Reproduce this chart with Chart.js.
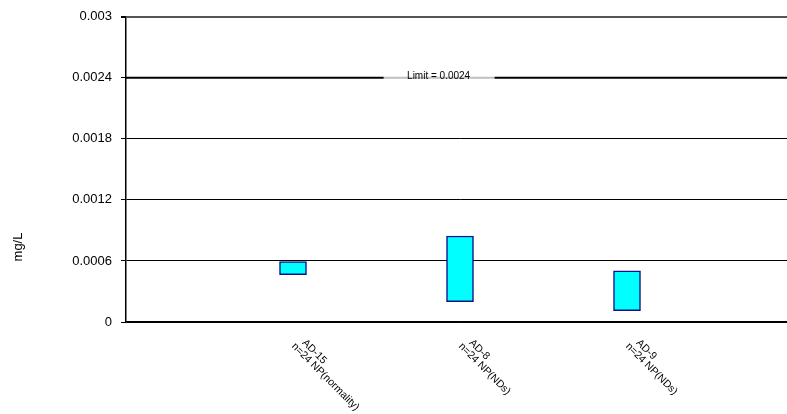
<!DOCTYPE html>
<html>
<head>
<meta charset="utf-8">
<script src="https://cdn.jsdelivr.net/npm/chart.js@4/dist/chart.umd.min.js"></script>
<style>
  html, body { margin: 0; padding: 0; overflow: hidden; background: #fff; }
  #wrap { width: 800px; height: 414px; }
</style>
</head>
<body>
<div id="wrap"><canvas id="chart"></canvas></div>
<script>
// Data
const categories = ['', 'AD-15', 'AD-8', 'AD-9', ''];
const subLabels = ['', 'n=24 NP(normality)', 'n=24 NP(NDs)', 'n=24 NP(NDs)', ''];
const lowValues = [null, 0.000466, 0.0002, 0.000111, null];
const highValues = [null, 0.000594, 0.000845, 0.000503, null];
const LIMIT = 0.0024;
const limitLabel = 'Limit = 0.0024';
const yTicks = [0, 0.0006, 0.0012, 0.0018, 0.0024, 0.003];
const yTickLabels = ['0', '0.0006', '0.0012', '0.0018', '0.0024', '0.003'];
const yTitle = 'mg/L';

const FONT = "'Liberation Sans', Arial, sans-serif";

const intervals = categories.map((c, i) =>
    lowValues[i] == null ? null : [lowValues[i], highValues[i]]);
const limitValues = categories.map(() => LIMIT);

// Labels, limit tag and axis title drawn by hand (rotated down-right like Excel)
const decorations = {
    id: 'decorations',
    afterDatasetsDraw(chart) {
        const ctx = chart.ctx;
        const area = chart.chartArea;
        const y = chart.scales.y.getPixelForValue(LIMIT);
        const cx = area.left + (area.right - area.left) * 0.468;
        ctx.save();
        ctx.fillStyle = 'rgba(255,255,255,0.75)';
        ctx.fillRect(cx - 55, y - 2, 111, 4);
        ctx.fillStyle = '#000';
        ctx.font = '10px ' + FONT;
        ctx.textAlign = 'center';
        ctx.textBaseline = 'middle';
        ctx.fillText(limitLabel, cx, y - 2);
        ctx.restore();
    },
    afterDraw(chart) {
        const ctx = chart.ctx;
        const xScale = chart.scales.x;
        const base = chart.chartArea.bottom;
        ctx.save();
        ctx.fillStyle = '#000';
        ctx.font = '10.5px ' + FONT;
        ctx.textAlign = 'left';
        ctx.textBaseline = 'top';
        categories.forEach((cat, i) => {
            if (!cat) return;
            const x = xScale.getPixelForValue(i);
            ctx.save();
            ctx.translate(x + 4, base + 19);
            ctx.rotate(Math.PI / 4);
            ctx.fillText(subLabels[i], 0, 0);
            ctx.fillText(cat, 5, -10);
            ctx.restore();
        });

        // y axis title
        ctx.translate(18, 247);
        ctx.rotate(-Math.PI / 2);
        ctx.font = '13px ' + FONT;
        ctx.textAlign = 'center';
        ctx.textBaseline = 'middle';
        ctx.fillText(yTitle, 0, 0);
        ctx.restore();
    }
};

new Chart(document.getElementById('chart'), {
    data: {
        labels: categories,
        datasets: [
            {
                type: 'bar',
                data: intervals,
                backgroundColor: '#00FFFF',
                borderColor: '#10108A',
                borderWidth: 1.5,
                borderSkipped: false,
                barThickness: 27,
                order: 1
            },
            {
                type: 'line',
                data: limitValues,
                borderColor: '#000',
                borderWidth: 2,
                pointRadius: 0,
                fill: false,
                order: 2
            }
        ]
    },
    options: {
        responsive: true,
        maintainAspectRatio: false,
        animation: false,
        layout: { padding: { top: 15, right: 6, left: 0, bottom: 0 } },
        plugins: {
            legend: { display: false },
            tooltip: { enabled: false }
        },
        scales: {
            x: {
                type: 'category',
                offset: false,
                grid: { display: false },
                border: { display: true, color: '#000', width: 1.5 },
                ticks: { display: false },
                afterFit(scale) { scale.height = 92; }
            },
            y: {
                min: 0,
                max: 0.003,
                afterBuildTicks(scale) {
                    scale.ticks = yTicks.map(v => ({ value: v }));
                },
                afterFit(scale) { scale.width = 126; },
                border: { display: true, color: '#000', width: 1.5 },
                grid: {
                    color: c => c.index === yTicks.length - 1 ? '#555' : '#000',
                    lineWidth: c => c.index === yTicks.length - 1 ? 2 : 1,
                    tickLength: 5,
                    tickColor: '#000'
                },
                ticks: {
                    padding: 9,
                    color: '#000',
                    font: { family: FONT, size: 13 },
                    callback: (v, i) => yTickLabels[i]
                }
            }
        }
    },
    plugins: [decorations]
});
</script>
</body>
</html>
